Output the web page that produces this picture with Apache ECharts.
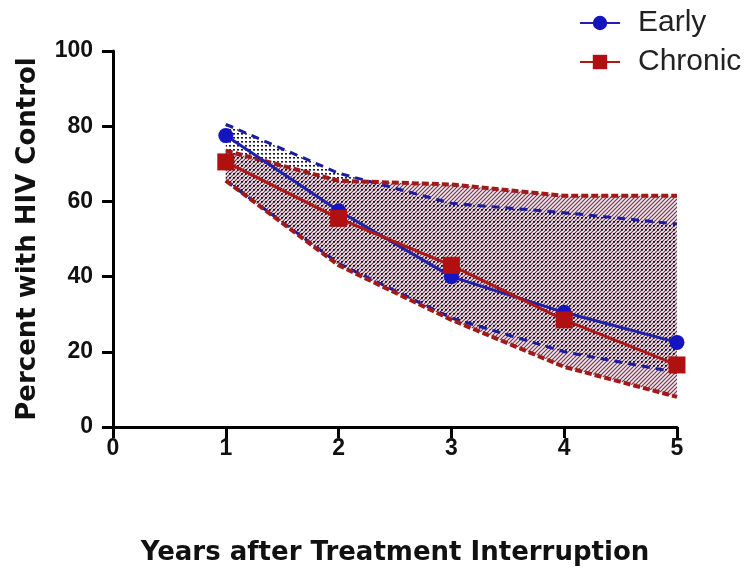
<!DOCTYPE html>
<html>
<head>
<meta charset="utf-8">
<script src="https://cdn.jsdelivr.net/npm/echarts@6/dist/echarts.min.js"></script>
<style>
html,body{margin:0;padding:0;background:#fff;}
#main{width:748px;height:577px;}
</style>
</head>
<body>
<div id="main"></div>
<script>
var years = [1, 2, 3, 4, 5];
var early = [77.5, 57.5, 40, 30.5, 22.5];
var earlyUpper = [80.5, 67.5, 59.5, 57, 54];
var earlyLower = [65.5, 43.5, 29, 20, 14.5];
var chronic = [70.5, 55.5, 43, 28.5, 16.5];
var chronicUpper = [73.5, 65.5, 64.5, 61.5, 61.5];
var chronicLower = [65.5, 43, 28.5, 16, 8];

var myChart = echarts.init(document.getElementById('main'));

// fill patterns for the confidence bands
function makeHatch() {
    var c = document.createElement('canvas');
    c.width = 4; c.height = 4;
    var ctx = c.getContext('2d');
    ctx.fillStyle = 'rgba(200,150,170,0.25)';
    ctx.fillRect(0, 0, 4, 4);
    ctx.strokeStyle = 'rgba(70,10,35,0.8)';
    ctx.lineWidth = 1.1;
    ctx.beginPath();
    ctx.moveTo(-1, 5); ctx.lineTo(5, -1);
    ctx.moveTo(-1, 1); ctx.lineTo(1, -1);
    ctx.moveTo(3, 5); ctx.lineTo(5, 3);
    ctx.stroke();
    return c;
}
function makeDots() {
    var c = document.createElement('canvas');
    c.width = 4; c.height = 4;
    var ctx = c.getContext('2d');
    ctx.fillStyle = 'rgba(15,10,30,0.95)';
    ctx.fillRect(1, 1, 2, 1.6);
    return c;
}
var hatch = makeHatch(), dots = makeDots();

function zip(xs, ys) {
    return xs.map(function (x, i) { return [x, ys[i]]; });
}

function bandSeries(upper, lower, pattern, z) {
    return {
        type: 'custom',
        silent: true,
        z: z,
        data: years.map(function (x, i) { return [x, lower[i], upper[i]]; }),
        encode: {x: 0, y: [1, 2]},
        renderItem: function (params, api) {
            if (params.dataIndex !== 0) return;
            var pts = [];
            for (var i = 0; i < years.length; i++) pts.push(api.coord([years[i], upper[i]]));
            for (var j = years.length - 1; j >= 0; j--) pts.push(api.coord([years[j], lower[j]]));
            return {
                type: 'polygon',
                shape: {points: pts},
                style: {fill: {image: pattern, repeat: 'repeat'}, stroke: null}
            };
        }
    };
}

function dashSeries(vals, color, width, dash, z) {
    return {
        type: 'line',
        data: zip(years, vals),
        symbol: 'none',
        silent: true,
        z: z,
        lineStyle: {color: color, width: width, type: dash}
    };
}

var option = {
    animation: false,
    grid: {left: 113, right: 71, top: 51, bottom: 150, outerBoundsMode: 'none'},
    legend: {
        orient: 'vertical',
        left: 574,
        top: 3,
        itemGap: 9,
        itemWidth: 40,
        itemHeight: 18,
        textStyle: {fontFamily: 'Liberation Sans', fontSize: 30, color: '#222', padding: [0, 0, 0, 13]},
        data: ['Early', 'Chronic']
    },
    xAxis: {
        type: 'value',
        min: 0, max: 5, interval: 1,
        name: 'Years after Treatment Interruption',
        nameLocation: 'middle',
        nameGap: 113,
        nameTextStyle: {fontFamily: 'DejaVu Sans', fontWeight: 'bold', fontSize: 26, color: '#111'},
        axisLine: {lineStyle: {color: '#000', width: 3}},
        axisTick: {length: 11, lineStyle: {color: '#000', width: 3}},
        axisLabel: {fontFamily: 'Liberation Sans', fontWeight: 'bold', fontSize: 23, color: '#111', margin: 10},
        splitLine: {show: false}
    },
    yAxis: {
        type: 'value',
        min: 0, max: 100, interval: 20,
        name: 'Percent with HIV Control',
        nameLocation: 'middle',
        nameGap: 72,
        nameTextStyle: {fontFamily: 'DejaVu Sans', fontWeight: 'bold', fontSize: 26, color: '#111'},
        axisLine: {show: true, lineStyle: {color: '#000', width: 3}},
        axisTick: {show: true, length: 11, lineStyle: {color: '#000', width: 3}},
        axisLabel: {fontFamily: 'Liberation Sans', fontWeight: 'bold', fontSize: 23, color: '#111', margin: 20},
        splitLine: {show: false}
    },
    series: [
        bandSeries(chronicUpper, chronicLower, hatch, 1),
        bandSeries(earlyUpper, earlyLower, dots, 1),
        dashSeries(earlyUpper, '#1c1ca0', 3, [8, 6], 3),
        dashSeries(earlyLower, '#1c1ca0', 3, [8, 6], 3),
        dashSeries(chronicUpper, '#a01a1a', 4, [7, 3], 4),
        dashSeries(chronicLower, '#a01a1a', 4, [7, 3], 4),
        {
            name: 'Early',
            type: 'line',
            data: zip(years, early),
            symbol: 'circle',
            symbolSize: 15,
            z: 5,
            lineStyle: {color: '#2222a8', width: 3},
            itemStyle: {color: '#1414c0'}
        },
        {
            name: 'Chronic',
            type: 'line',
            data: zip(years, chronic),
            symbol: 'rect',
            symbolSize: 17,
            z: 6,
            lineStyle: {color: '#b01818', width: 3},
            itemStyle: {color: '#b01010'}
        }
    ]
};

myChart.setOption(option);
</script>
</body>
</html>
